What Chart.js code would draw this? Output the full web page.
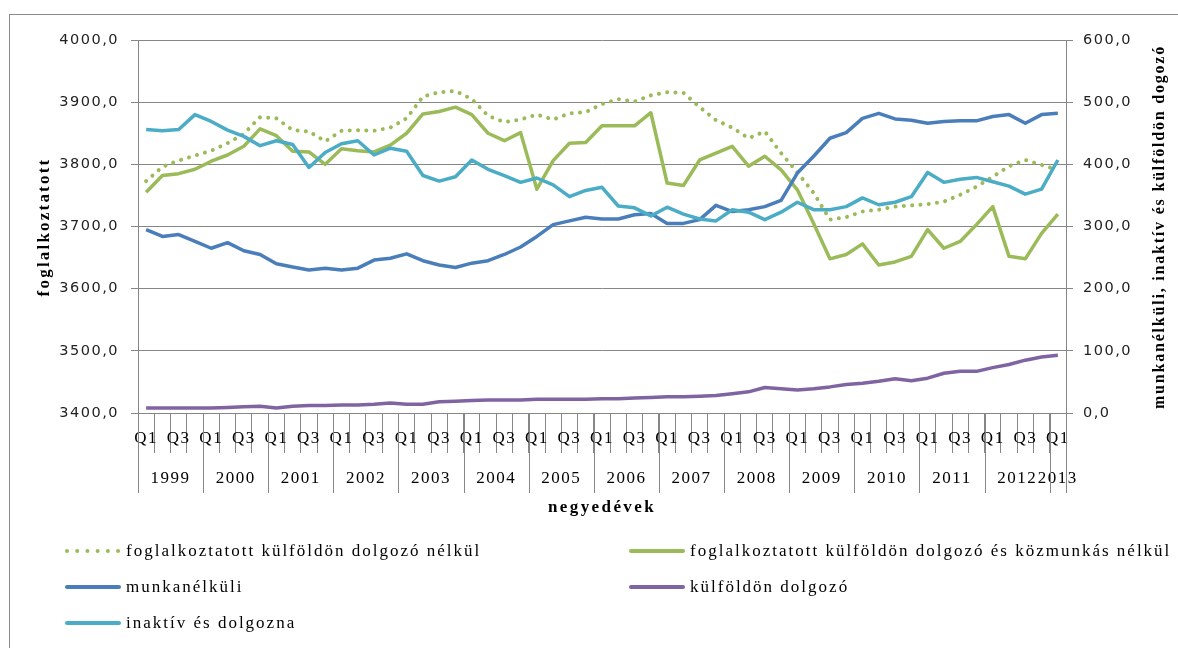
<!DOCTYPE html>
<html><head><meta charset="utf-8">
<script src="https://cdn.jsdelivr.net/npm/chart.js@4.4.0/dist/chart.umd.min.js"></script>
<style>
html,body{margin:0;padding:0;background:#fff;overflow:hidden;width:1178px;height:648px;}
#wrap{position:relative;width:1178px;height:648px;overflow:hidden;}
#frame{position:absolute;left:9px;top:14px;width:1300px;height:800px;border-left:1px solid #8a8a8a;border-top:1px solid #8a8a8a;}
canvas{position:absolute;left:0;top:0;}
#legend{position:absolute;left:0;top:0;width:1178px;height:648px;pointer-events:none;}
.li{position:absolute;display:flex;align-items:center;height:24px;font-family:"Liberation Serif",serif;font-size:17px;letter-spacing:2px;color:#000;white-space:nowrap;}
.li svg{margin-right:4px;flex:none;}
</style></head><body>
<div id="wrap"><div id="frame"></div><canvas id="c" width="1178" height="648"></canvas><div id="legend"></div></div>
<script>
// ---- data ----
const years = ['1999','2000','2001','2002','2003','2004','2005','2006','2007','2008','2009','2010','2011','2012','2013'];
const quarterNames = ['Q1','Q2','Q3','Q4'];
const seriesNames = [
  'foglalkoztatott külföldön dolgozó nélkül',
  'foglalkoztatott külföldön dolgozó és közmunkás nélkül',
  'munkanélküli',
  'külföldön dolgozó',
  'inaktív és dolgozna'
];
const foglNelkul = [3773,3796,3806,3814,3822,3834,3849,3876,3874,3855,3853,3837,3854,3855,3854,3859,3874,3909,3916,3918,
  3905,3878,3868,3872,3880,3872,3882,3884,3897,3905,3901,3911,3916,3915,3892,3871,3859,3842,3853,3818,
  3787,3754,3711,3715,3724,3727,3732,3734,3736,3740,3751,3764,3780,3797,3807,3799,3791];
const foglKozmNelkul = [3755,3782,3785,3792,3805,3815,3829,3857,3846,3821,3820,3800,3825,3822,3820,3831,3850,3881,3885,3892,
  3880,3850,3838,3851,3760,3806,3834,3835,3862,3862,3862,3883,3770,3766,3807,3818,3829,3797,3813,3791,
  3759,3705,3648,3655,3672,3638,3643,3652,3695,3665,3676,3703,3732,3652,3648,3689,3720];
const munkanelkuli = [295,284,287,276,265,274,261,255,240,235,230,233,230,233,246,249,256,245,238,234,
  241,245,255,267,284,303,309,315,312,312,319,321,305,305,311,334,324,327,332,342,
  386,413,442,451,474,482,473,471,466,469,470,470,477,480,466,480,482];
const kulfoldon = [8,8,8,8,8,9,10,11,8,11,12,12,13,13,14,16,14,14,18,19,
  20,21,21,21,22,22,22,22,23,23,24,25,26,26,27,28,31,34,41,39,
  37,39,42,46,48,51,55,52,56,64,67,67,73,78,85,90,93];
const inaktiv = [456,454,456,480,469,455,445,430,438,432,395,419,433,438,415,426,421,382,373,380,
  407,392,382,371,378,367,348,358,363,333,330,317,331,320,312,309,327,323,311,323,
  339,327,327,332,346,335,339,348,387,371,376,379,372,365,352,360,407];
const leftTitle = 'foglalkoztatott';
const rightTitle = 'munkanélküli, inaktív és külföldön dogozó';
const xTitle = 'negyedévek';

// ---- derived labels ----
const quarters = [];
const yearCenters = [];
const yearBounds = [-0.5];
years.forEach((y, k) => {
  const start = quarters.length;
  const n = Math.min(4, foglNelkul.length - start);
  for (let q = 0; q < n; q++) quarters.push(quarterNames[q]);
  yearCenters.push(start + (n - 1) / 2);
  yearBounds.push(start + n - 0.5);
});

const SERIF = '"Liberation Serif", "Times New Roman", serif';
const GRID = '#868686';
const fmt = v => Number(v).toFixed(1).replace('.', ',');

const decor = {
  id: 'decor',
  beforeDraw(c) { c.ctx.letterSpacing = '1.5px'; },
  afterDraw(c) {
    const {ctx, chartArea, scales} = c;
    const xs = scales.xYear;
    ctx.save();
    ctx.letterSpacing = '0px';
    ctx.strokeStyle = GRID; ctx.lineWidth = 1;
    yearBounds.forEach(b => {
      const px = Math.round(xs.getPixelForValue(b)) + 0.5;
      ctx.beginPath(); ctx.moveTo(px, chartArea.bottom); ctx.lineTo(px, xs.top + 35); ctx.stroke();
    });
    ctx.fillStyle = '#000';
    ctx.textAlign = 'center'; ctx.textBaseline = 'middle';
    ctx.font = 'bold 17px ' + SERIF;
    ctx.letterSpacing = '2.2px';
    ctx.save(); ctx.translate(45, 227); ctx.rotate(-Math.PI / 2); ctx.fillText(leftTitle, 0, 0); ctx.restore();
    ctx.font = 'bold 16px ' + SERIF;
    ctx.letterSpacing = '1.8px';
    ctx.save(); ctx.translate(1160, 227); ctx.rotate(-Math.PI / 2); ctx.fillText(rightTitle, 0, 0); ctx.restore();
    ctx.font = 'bold 17px ' + SERIF;
    ctx.letterSpacing = '2.4px';
    ctx.fillText(xTitle, (chartArea.left + chartArea.right) / 2, 508);
    ctx.restore();
  }
};

const lineBase = {pointRadius: 0, pointHoverRadius: 0, tension: 0, fill: false, borderWidth: 3.5, borderJoinStyle: 'round'};

const chart = new Chart(document.getElementById('c'), {
  type: 'line',
  data: {
    labels: quarters,
    datasets: [
      Object.assign({}, lineBase, {label: seriesNames[0], data: foglNelkul, yAxisID: 'y', borderColor: '#9BBB59', borderWidth: 4, borderDash: [0.01, 8.3], borderCapStyle: 'round', order: 4}),
      Object.assign({}, lineBase, {label: seriesNames[1], data: foglKozmNelkul, yAxisID: 'y', borderColor: '#9BBB59', order: 3}),
      Object.assign({}, lineBase, {label: seriesNames[2], data: munkanelkuli, yAxisID: 'y1', borderColor: '#4A7EBB', order: 2}),
      Object.assign({}, lineBase, {label: seriesNames[3], data: kulfoldon, yAxisID: 'y1', borderColor: '#8064A2', order: 1}),
      Object.assign({}, lineBase, {label: seriesNames[4], data: inaktiv, yAxisID: 'y1', borderColor: '#4BACC6', order: 0})
    ]
  },
  options: {
    responsive: false, animation: false, devicePixelRatio: 1,
    layout: {padding: {top: 40, left: 0, right: 0, bottom: 130}},
    plugins: {legend: {display: false}, tooltip: {enabled: false}},
    color: '#000',
    scales: {
      x: {
        type: 'category', position: 'bottom', offset: true, weight: 0,
        grid: {drawOnChartArea: false, drawTicks: true, tickLength: 40, color: GRID, offset: true},
        border: {display: true, color: GRID},
        ticks: {autoSkip: false, maxRotation: 0, minRotation: 0, padding: -25, color: '#000',
          font: {size: 17, family: SERIF},
          callback: (v, i) => (i % 2 === 0 ? quarters[i] : '')},
        afterFit: s => { s.height = 45; }
      },
      xYear: {
        type: 'linear', position: 'bottom', weight: 1, min: -0.5, max: 56.5, bounds: 'data',
        grid: {display: false, drawTicks: false}, border: {display: false},
        afterBuildTicks: s => { s.ticks = yearCenters.map(v => ({value: v})); },
        ticks: {autoSkip: false, maxRotation: 0, minRotation: 0, padding: 10, color: '#000',
          font: {size: 17, family: SERIF},
          callback: v => { const k = yearCenters.indexOf(v); return k >= 0 ? years[k] : ''; }},
        afterFit: s => { s.height = 60; }
      },
      y: {
        position: 'left', min: 3400, max: 4000,
        grid: {color: GRID, tickLength: 7, drawTicks: true},
        border: {color: GRID},
        ticks: {stepSize: 100, padding: 12, color: '#222', font: {family: '"DejaVu Sans", sans-serif', size: 14.5}, callback: fmt},
        afterFit: s => { s.width = 138; }
      },
      y1: {
        position: 'right', min: 0, max: 600,
        grid: {drawOnChartArea: false, color: GRID, tickLength: 7, drawTicks: true},
        border: {color: GRID},
        ticks: {stepSize: 100, padding: 10, color: '#222', font: {family: '"DejaVu Sans", sans-serif', size: 14.5}, callback: fmt},
        afterFit: s => { s.width = 112; }
      }
    }
  },
  plugins: [decor]
});

// ---- HTML legend built from the chart's datasets ----
const legendPos = [[64, 551], [628, 551], [64, 587], [628, 587], [64, 623]];
const legendEl = document.getElementById('legend');
chart.data.datasets.forEach((ds, i) => {
  const item = document.createElement('div');
  item.className = 'li';
  item.style.left = legendPos[i][0] + 'px';
  item.style.top = (legendPos[i][1] - 12) + 'px';
  const dash = ds.borderDash ? 'stroke-dasharray="0.01 10.2"' : '';
  item.innerHTML = '<svg width="58" height="8"><line x1="3" y1="4" x2="55" y2="4" stroke="' + ds.borderColor +
    '" stroke-width="4" stroke-linecap="round" ' + dash + '/></svg>';
  const span = document.createElement('span');
  span.textContent = ds.label;
  item.appendChild(span);
  legendEl.appendChild(item);
});
</script>
</body></html>
